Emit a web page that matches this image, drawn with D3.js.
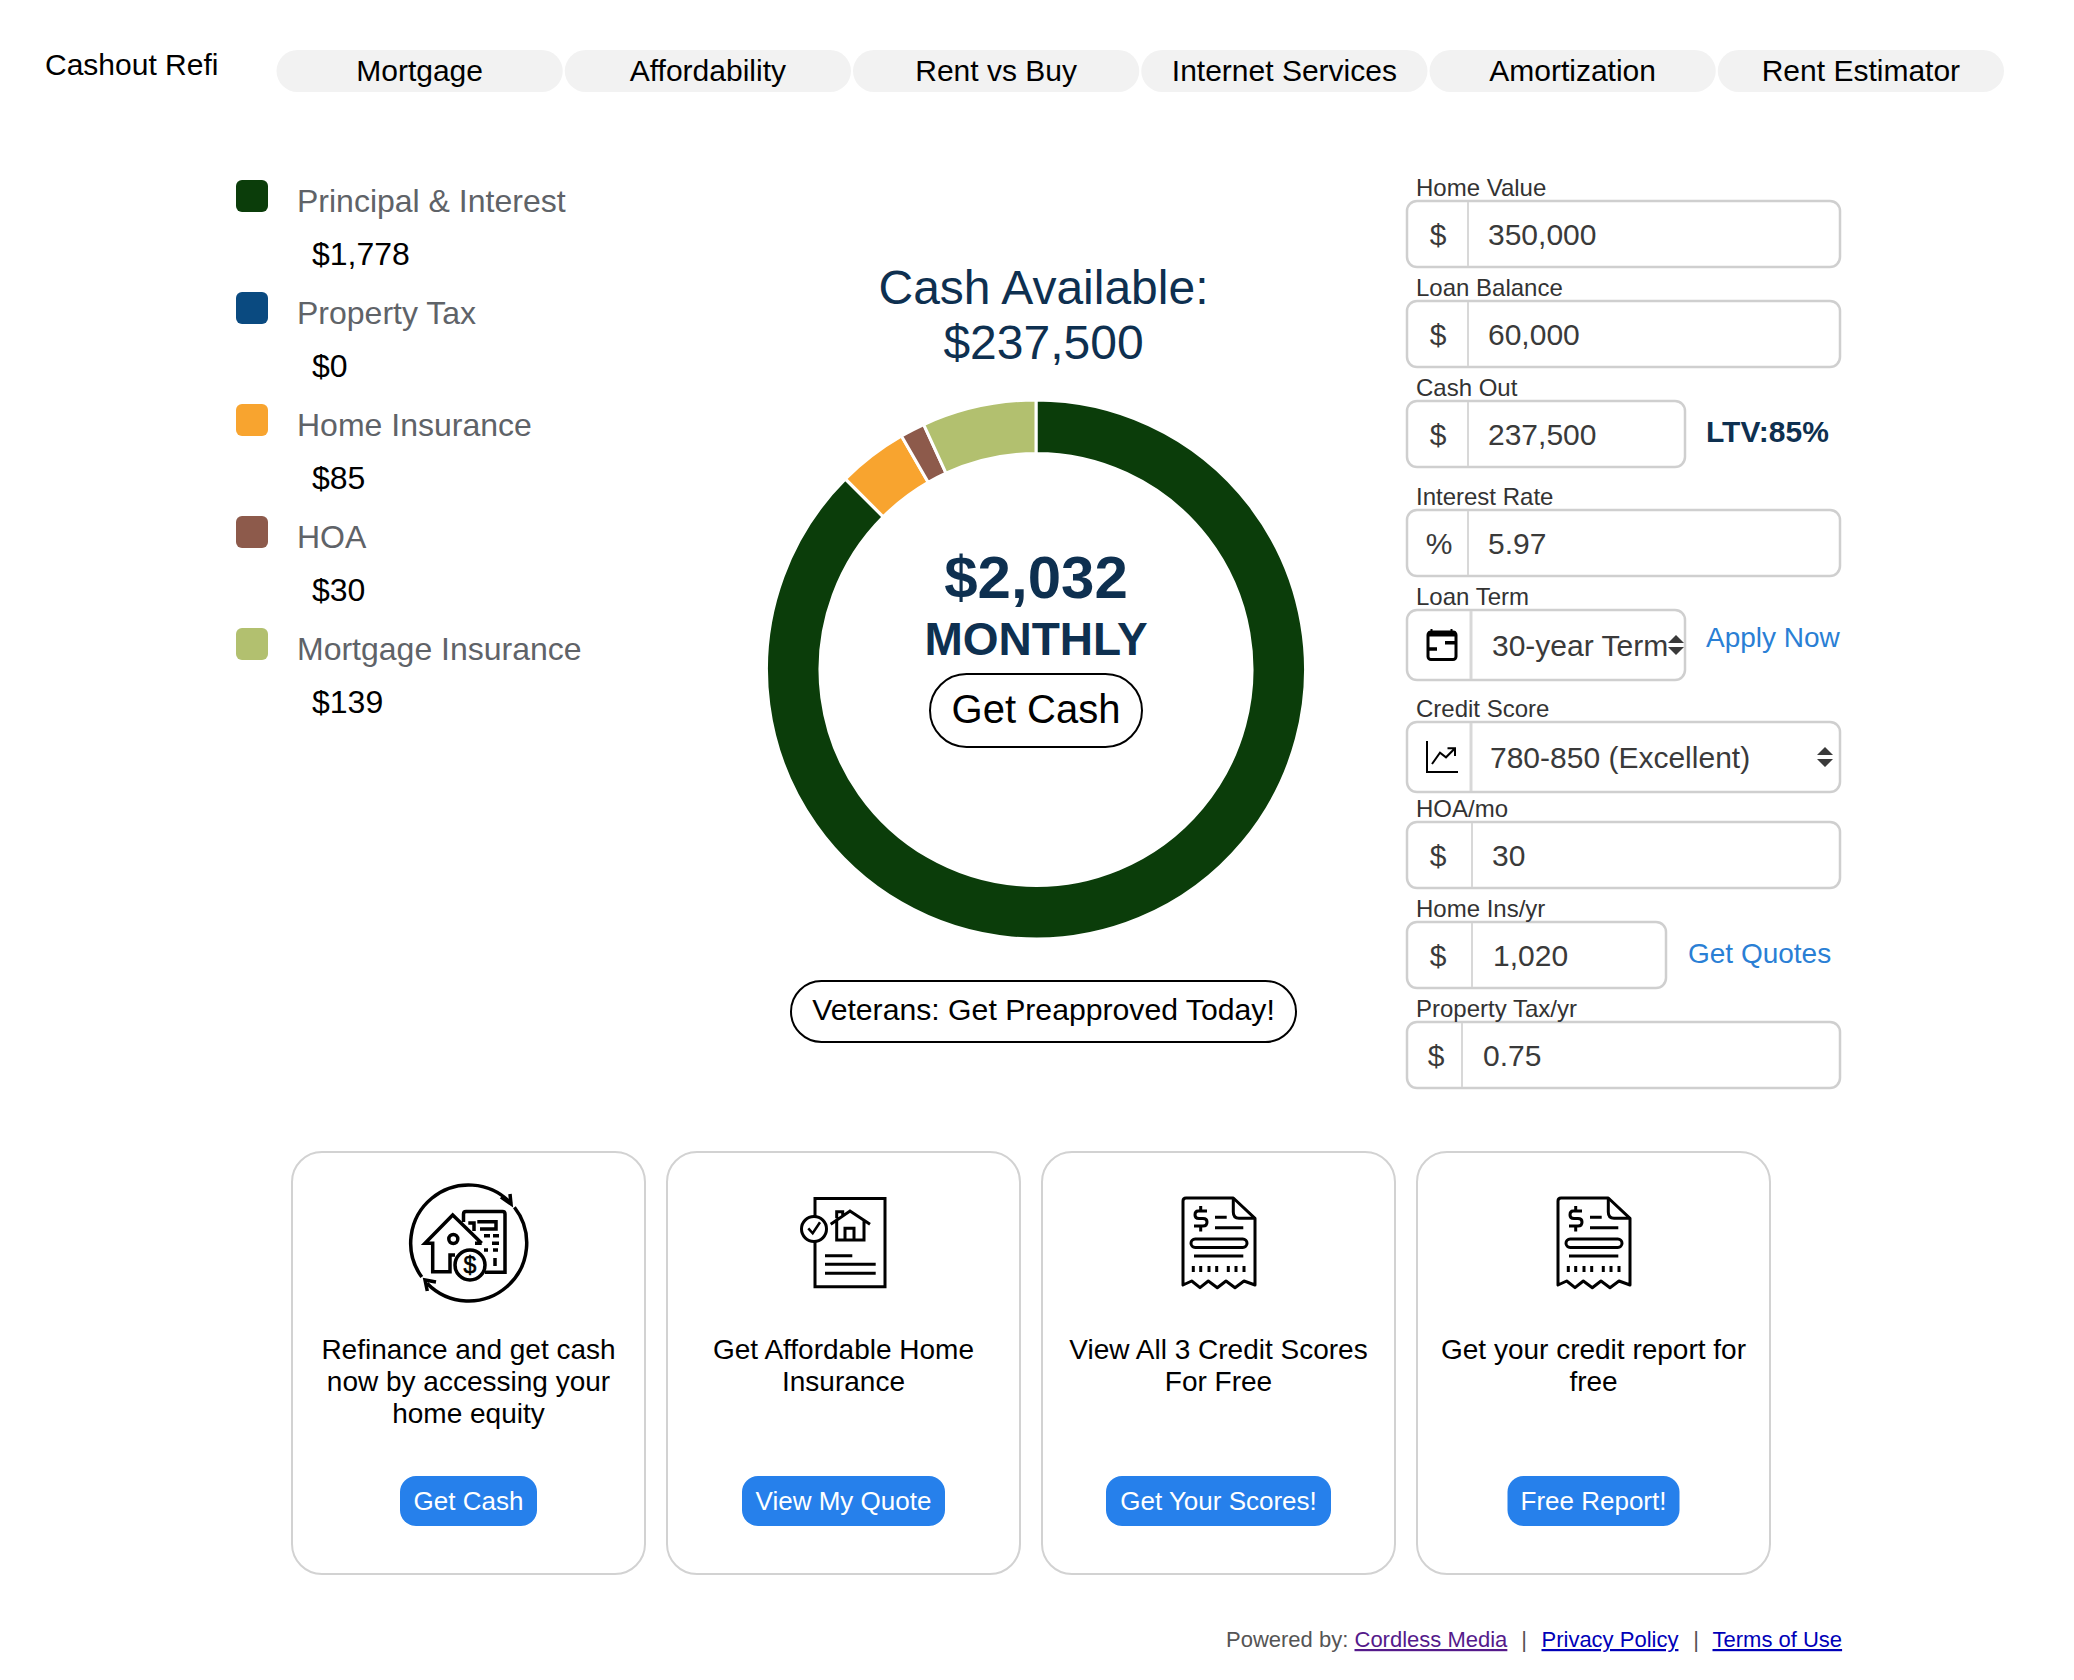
<!DOCTYPE html>
<meta charset="utf-8">
<title>Cashout Refi</title>
<style>
  html, body { margin: 0; padding: 0; background: #fff; }
  svg { display: block; }
  text { font-family: "Liberation Sans", Arial, sans-serif; }
</style>
<div id="viz"></div>

<script src="https://cdnjs.cloudflare.com/ajax/libs/d3/7.8.5/d3.min.js"></script>
<script>

const width = 2074;
const height = 1680;

// chart data
const categories = ["Principal & Interest", "Property Tax", "Home Insurance", "HOA", "Mortgage Insurance"];
const monthlyValues = [1778, 0, 85, 30, 139];
const sliceColors = ["#0b3d0a", "#0a4a80", "#f8a42f", "#8d5a4b", "#b2c06f"];

const navTabs = ["Mortgage", "Affordability", "Rent vs Buy", "Internet Services", "Amortization", "Rent Estimator"];

const fieldLabels = ["Home Value", "Loan Balance", "Cash Out", "Interest Rate", "Loan Term", "Credit Score", "HOA/mo", "Home Ins/yr", "Property Tax/yr"];
const fieldValues = ["350,000", "60,000", "237,500", "5.97", "30-year Term", "780-850 (Excellent)", "30", "1,020", "0.75"];
const fieldPrefixes = ["$", "$", "$", "%", "", "", "$", "$", "$"];

const cardLines = [
  ["Refinance and get cash", "now by accessing your", "home equity"],
  ["Get Affordable Home", "Insurance"],
  ["View All 3 Credit Scores", "For Free"],
  ["Get your credit report for", "free"]
];
const cardButtons = ["Get Cash", "View My Quote", "Get Your Scores!", "Free Report!"];

// layout of the form, same order as fieldLabels
const fieldTops = [201, 301, 401, 510, 610, 722, 822, 922, 1022];
const fieldHeights = [66, 66, 66, 66, 70, 70, 66, 66, 66];
const fieldRights = [1840, 1840, 1685, 1840, 1685, 1840, 1840, 1666, 1840];
const fieldSeps = [1468, 1468, 1468, 1468, 1471, 1471, 1472, 1472, 1462];
const fieldTextX = [1488, 1488, 1488, 1488, 1492, 1490, 1492, 1493, 1483];
const prefixX = [1438, 1438, 1438, 1439, 0, 0, 1438, 1438, 1436];
const buttonWidths = [137, 203, 225, 172];

const navy = "#0e3050";
const fieldLeft = 1407;

const svg = d3.select("#viz")
  .append("svg")
  .attr("width", width)
  .attr("height", height)
  .attr("viewBox", `0 0 ${width} ${height}`);

function label(parent, str, x, y, size, fill, anchor, weight) {
  return parent.append("text")
    .attr("x", x)
    .attr("y", y)
    .attr("font-size", size)
    .attr("fill", fill)
    .attr("text-anchor", anchor || "start")
    .attr("font-weight", weight || "normal")
    .text(str);
}

// header
label(svg, "Cashout Refi", 45, 75, 30, "#000");

const navX = d3.scaleBand().domain(navTabs).range([276.5, 2004]).paddingInner(0.007);

svg.append("g").selectAll("rect").data(navTabs).join("rect")
  .attr("x", d => navX(d))
  .attr("y", 50)
  .attr("width", navX.bandwidth())
  .attr("height", 42)
  .attr("rx", 21)
  .attr("fill", "#f2f2f2");

svg.append("g").selectAll("text").data(navTabs).join("text")
  .attr("x", d => navX(d) + navX.bandwidth() / 2)
  .attr("y", 81)
  .attr("text-anchor", "middle")
  .attr("font-size", 30)
  .attr("fill", "#000")
  .text(d => d);

// legend
const legendY = d3.scaleBand().domain(categories).range([180, 740]);

const legend = svg.append("g").selectAll("g").data(categories).join("g")
  .attr("transform", d => `translate(0,${legendY(d)})`);

legend.append("rect")
  .attr("x", 236)
  .attr("width", 32)
  .attr("height", 32)
  .attr("rx", 6)
  .attr("fill", (d, i) => sliceColors[i]);

legend.append("text")
  .attr("x", 297)
  .attr("y", 32)
  .attr("font-size", 32)
  .attr("fill", "#5f6368")
  .text(d => d);

legend.append("text")
  .attr("x", 312)
  .attr("y", 85)
  .attr("font-size", 32)
  .attr("fill", "#000")
  .text((d, i) => d3.format("$,")(monthlyValues[i]));

// donut
const donutX = 1036;
const donutY = 669.5;

const pie = d3.pie().sort(null).value(d => d);
const arc = d3.arc().innerRadius(216).outerRadius(269.5);

svg.append("g")
  .attr("transform", `translate(${donutX},${donutY})`)
  .selectAll("path")
  .data(pie(monthlyValues))
  .join("path")
  .attr("d", arc)
  .attr("fill", (d, i) => sliceColors[i])
  .attr("stroke", "#fff")
  .attr("stroke-width", 3);

label(svg, "Cash Available:", 1043.5, 304, 48, navy, "middle");
label(svg, "$237,500", 1043.5, 359, 48, navy, "middle");
label(svg, d3.format("$,")(d3.sum(monthlyValues)), donutX, 598, 60, navy, "middle", "bold");
label(svg, "MONTHLY", donutX, 655, 46, navy, "middle", "bold");

function outlinePill(x0, x1, y0, y1) {
  svg.append("rect")
    .attr("x", x0)
    .attr("y", y0)
    .attr("width", x1 - x0)
    .attr("height", y1 - y0)
    .attr("rx", (y1 - y0) / 2)
    .attr("fill", "#fff")
    .attr("stroke", "#000")
    .attr("stroke-width", 2);
}

outlinePill(930, 1142, 674, 747);
label(svg, "Get Cash", donutX, 723, 40, "#000", "middle");
outlinePill(791, 1296, 981, 1042);
label(svg, "Veterans: Get Preapproved Today!", 1043.5, 1020, 30.2, "#000", "middle");

// form fields
const fields = svg.append("g").selectAll("g").data(fieldLabels).join("g");

fields.append("rect")
  .attr("x", fieldLeft)
  .attr("y", (d, i) => fieldTops[i])
  .attr("width", (d, i) => fieldRights[i] - fieldLeft)
  .attr("height", (d, i) => fieldHeights[i])
  .attr("rx", 10)
  .attr("fill", "#fff")
  .attr("stroke", "#cfcfcf")
  .attr("stroke-width", 2.5);

fields.append("line")
  .attr("x1", (d, i) => fieldSeps[i])
  .attr("x2", (d, i) => fieldSeps[i])
  .attr("y1", (d, i) => fieldTops[i] + 1)
  .attr("y2", (d, i) => fieldTops[i] + fieldHeights[i] - 1)
  .attr("stroke", "#d8d8d8")
  .attr("stroke-width", (d, i) => fieldHeights[i] > 66 ? 3 : 2);

fields.append("text")
  .attr("x", 1416)
  .attr("y", (d, i) => fieldTops[i] - 5)
  .attr("font-size", 24)
  .attr("fill", "#333")
  .text(d => d);

fields.append("text")
  .attr("x", (d, i) => fieldTextX[i])
  .attr("y", (d, i) => fieldTops[i] + (fieldHeights[i] > 66 ? 46 : 44))
  .attr("font-size", 30)
  .attr("fill", "#3a3a3a")
  .text((d, i) => fieldValues[i]);

fields.append("text")
  .attr("x", (d, i) => prefixX[i])
  .attr("y", (d, i) => fieldTops[i] + 44)
  .attr("text-anchor", "middle")
  .attr("font-size", 30)
  .attr("fill", "#3a3a3a")
  .text((d, i) => fieldPrefixes[i]);

// select arrows
function selectArrows(cx, cy) {
  svg.append("path")
    .attr("d", `M${cx - 8},${cy - 2}L${cx},${cy - 10}L${cx + 8},${cy - 2}Z M${cx - 8},${cy + 2}L${cx},${cy + 10}L${cx + 8},${cy + 2}Z`)
    .attr("fill", "#3a3a3a");
}
selectArrows(1676, 645);
selectArrows(1825, 757);

// calendar icon
const cal = svg.append("g").attr("fill", "none").attr("stroke", "#000");
cal.append("rect").attr("x", 1428).attr("y", 632).attr("width", 28).attr("height", 27.5).attr("rx", 3).attr("stroke-width", 3);
cal.append("path").attr("d", "M1428,634H1456").attr("stroke-width", 5);
cal.append("path").attr("d", "M1427,649H1437M1445,642.7H1457").attr("stroke-width", 3.5);
cal.append("path").attr("d", "M1431.5,629V632M1451.5,629V632").attr("stroke-width", 2);

// trend icon
const trend = svg.append("g").attr("fill", "none").attr("stroke", "#000").attr("stroke-width", 2);
trend.append("path").attr("d", "M1427,741V772H1458");
trend.append("path").attr("d", "M1432,764L1440,752.7L1446,757.3L1455,748.3M1447.5,748.3H1455V756");

label(svg, "LTV:85%", 1706, 442, 30, navy, "start", "bold");
label(svg, "Apply Now", 1706, 647, 28, "#2a7fd5");
label(svg, "Get Quotes", 1688, 963, 28, "#2a7fd5");

// cards
const cardX = d3.scaleBand().domain(cardButtons).range([292, 1792]);
const cardW = 353;

const cards = svg.append("g").selectAll("g").data(cardButtons).join("g")
  .attr("transform", d => `translate(${cardX(d)},0)`);

cards.append("rect")
  .attr("y", 1152)
  .attr("width", cardW)
  .attr("height", 422)
  .attr("rx", 30)
  .attr("fill", "#fff")
  .attr("stroke", "#d2d2d2")
  .attr("stroke-width", 2);

cards.each(function(d, i) {
  d3.select(this).selectAll("text.line").data(cardLines[i]).join("text")
    .attr("class", "line")
    .attr("x", cardW / 2)
    .attr("y", (s, j) => 1359 + j * 31.8)
    .attr("text-anchor", "middle")
    .attr("font-size", 28)
    .attr("fill", "#000")
    .text(s => s);
});

cards.append("rect")
  .attr("x", (d, i) => cardW / 2 - buttonWidths[i] / 2)
  .attr("y", 1476)
  .attr("width", (d, i) => buttonWidths[i])
  .attr("height", 50)
  .attr("rx", 16)
  .attr("fill", "#2680eb");

cards.append("text")
  .attr("x", cardW / 2)
  .attr("y", 1510)
  .attr("text-anchor", "middle")
  .attr("font-size", 26)
  .attr("fill", "#fff")
  .text(d => d);

// card icons
const refi = svg.append("g").attr("fill", "none").attr("stroke", "#000").attr("stroke-width", 3.5);
const deg = Math.PI / 180;
const ring1 = d3.path();
ring1.arc(468.7, 1243, 58, 144 * deg, 317 * deg);
const ring2 = d3.path();
ring2.arc(468.7, 1243, 58, 322 * deg, 136 * deg + 2 * Math.PI);
refi.append("path").attr("d", ring1.toString());
refi.append("path").attr("d", ring2.toString());
refi.append("path").attr("d", "M501,1197L511,1204L510,1194M427.3,1291L425,1280L436,1282");
refi.append("path").attr("d", "M463.5,1222V1214Q463.5,1211.5 466,1211.5H502.5Q505,1211.5 505,1214V1272.3H485");
refi.append("path").attr("d", "M477.3,1221.7H496V1229H480");
refi.append("path").attr("d", "M481.7,1243.3L452.7,1215L425,1243.3H432.7V1271.7H450V1255H455M468.3,1223H474V1231M481.7,1243.3H475");
refi.append("circle").attr("cx", 453.3).attr("cy", 1239).attr("r", 4.5);
refi.append("circle").attr("cx", 470).attr("cy", 1265).attr("r", 15).attr("fill", "#fff");
refi.append("path").attr("d", "M484,1235.7H490M493,1235.7H499M492,1243.3H499M484,1250H488M493,1250H498M495,1258V1266");
label(refi, "$", 470, 1273, 23, "#000", "middle").attr("stroke", "#000").attr("stroke-width", 0.6);

const policy = svg.append("g").attr("fill", "none").attr("stroke", "#000").attr("stroke-width", 3);
policy.append("path").attr("d", "M815,1216.7V1198.5H885V1286.7H815V1241.7");
policy.append("circle").attr("cx", 814).attr("cy", 1229).attr("r", 12.5);
policy.append("path").attr("d", "M808.3,1228.3L812.7,1233.3L820,1222.3").attr("stroke-width", 2.5);
policy.append("path").attr("d", "M830.7,1224.3L850,1211L870,1224.3M836.7,1220V1240H864V1220M845,1240V1228.3H854V1240M836.7,1218.3V1211.7H842.7V1215");
policy.append("path").attr("d", "M825,1255.7H852.3M825,1264.3H875.7M825,1273.3H875.7");

function receipt(dx) {
  const g = svg.append("g")
    .attr("transform", `translate(${dx},0)`)
    .attr("fill", "none")
    .attr("stroke", "#000")
    .attr("stroke-width", 3)
    .attr("stroke-linejoin", "round");
  g.append("path").attr("d", "M1183,1285V1201Q1183,1198 1186,1198H1233.3L1255,1218.3V1285L1244,1281L1235,1287.7L1226,1281L1217.3,1287.7L1208.3,1281L1200,1287.7L1191.7,1281Z");
  g.append("path").attr("d", "M1233.3,1198V1212Q1233.3,1218.3 1239,1218.3H1255");
  g.append("path").attr("d", "M1207,1211H1198Q1195,1211 1195,1215Q1195,1218.5 1199,1218.5H1203Q1207,1218.5 1207,1222Q1207,1226 1203,1226H1194M1200.7,1206V1211M1200.7,1226V1231.5");
  g.append("path").attr("d", "M1215,1217.3H1226.7M1215,1227.7H1243.3M1194,1256H1243.3");
  g.append("rect").attr("x", 1191).attr("y", 1239).attr("width", 56).attr("height", 8.5).attr("rx", 4.2);
  g.append("path")
    .attr("d", "M1193.3,1266V1272M1200.7,1266V1272M1209,1266V1272M1216.7,1266V1272M1228.3,1266V1272M1236,1266V1272M1244,1266V1272");
}
receipt(0);
receipt(375);

// footer
label(svg, "Powered by:", 1226, 1647, 22, "#555");
label(svg, "Cordless Media", 1354.5, 1647, 22, "#551a8b").attr("text-decoration", "underline");
label(svg, "|", 1524, 1647, 22, "#555", "middle");
label(svg, "Privacy Policy", 1541.5, 1647, 22, "#0000b8").attr("text-decoration", "underline");
label(svg, "|", 1696, 1647, 22, "#555", "middle");
label(svg, "Terms of Use", 1712.5, 1647, 22, "#0000b8").attr("text-decoration", "underline");

</script>
